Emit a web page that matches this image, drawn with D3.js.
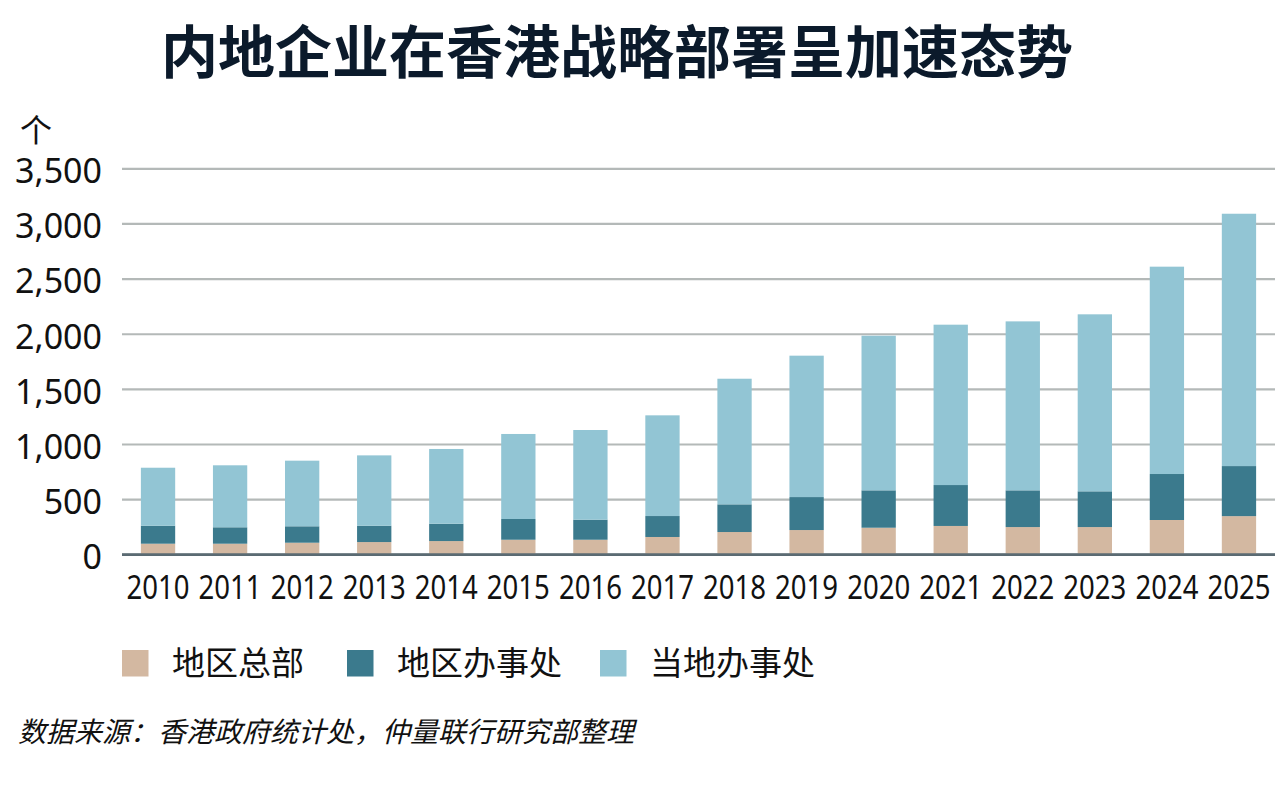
<!DOCTYPE html>
<html lang="zh">
  <head>
    <title>内地企业在香港战略部署</title>
    <meta charset="utf-8">
    <style>
      body { margin: 0; background: #fff; }
      svg { display: block; font-family: "Noto Sans CJK SC", "Noto Sans", sans-serif; }
      .title { font-size: 57px; font-weight: bold; fill: #0b1a2b; }
      .yaxis text { font-family: "Noto Sans", sans-serif; font-size: 34px; fill: #111; }
      .xaxis text { font-family: "Noto Sans", sans-serif; font-size: 32px; fill: #111; }
      .legend text { font-size: 33px; fill: #111; }
      .source { font-size: 28px; font-style: italic; fill: #111; }
    </style>
    <script src="https://d3js.org/d3.v7.min.js"></script>
  </head>
  <body>
    <script>

    // data
    var years = ["2010", "2011", "2012", "2013", "2014", "2015", "2016", "2017",
                 "2018", "2019", "2020", "2021", "2022", "2023", "2024", "2025"];
    var hq = [96, 96, 105, 111, 120, 132, 132, 157, 202, 220, 241, 257, 247, 247, 311, 346];
    var regional = [163, 149, 149, 148, 157, 188, 182, 190, 251, 299, 339, 371, 333, 324, 417, 454];
    var local = [526, 562, 595, 638, 678, 771, 813, 913, 1139, 1282, 1402, 1454, 1532, 1605, 1880, 2288];
    var seriesNames = ["地区总部", "地区办事处", "当地办事处"];
    var colors = ["#d3b8a1", "#3b7a8d", "#92c5d4"];
    var yTicks = [0, 500, 1000, 1500, 2000, 2500, 3000, 3500];

    var W = 1280, H = 788;

    var svg = d3.select("body")
                .append("svg")
                .attr("width", W)
                .attr("height", H);

    svg.append("text")
       .attr("class", "title")
       .attr("x", 161)
       .attr("y", 73)
       .text("内地企业在香港战略部署呈加速态势");

    svg.append("text")
       .attr("x", 20)
       .attr("y", 142)
       .style("font-size", "32px")
       .style("fill", "#111")
       .text("个");

    var table = years.map(function(y, i) {
      return {year: y, hq: hq[i], regional: regional[i], local: local[i]};
    });

    var stack = d3.stack().keys(["hq", "regional", "local"]);
    var layers = stack(table);

    var xS = d3.scaleBand()
               .domain(years)
               .range([122, 1275])
               .paddingInner(0.524)
               .paddingOuter(0.262);

    var yS = d3.scaleLinear()
               .domain([0, 3500])
               .range([554.3, 168.3]);

    // gridlines + labels
    var yguide = svg.append("g")
                    .attr("class", "yaxis")
                    .attr("transform", "translate(122,0)")
                    .call(d3.axisLeft(yS)
                            .tickValues(yTicks)
                            .tickSize(-1153)
                            .tickPadding(20)
                            .tickFormat(d3.format(",")));
    yguide.select(".domain").remove();
    yguide.selectAll(".tick line")
          .attr("stroke", function(d) { return d === 0 ? "#5b6b73" : "#b4b9b8"; })
          .attr("stroke-width", 2.2);
    yguide.selectAll(".tick text")
          .attr("dy", "0.42em");

    svg.append("g")
       .selectAll("g")
       .data(layers)
       .enter()
       .append("g")
       .attr("fill", function(d, i) { return colors[i]; })
       .selectAll("rect")
       .data(function(d) { return d; })
       .enter()
       .append("rect")
       .attr("x", function(d) { return xS(d.data.year); })
       .attr("width", xS.bandwidth())
       .attr("y", function(d) { return yS(d[1]); })
       .attr("height", function(d) { return yS(d[0]) - yS(d[1]); });

    // baseline over the bars
    svg.append("line")
       .attr("x1", 122).attr("x2", 1275)
       .attr("y1", yS(0)).attr("y2", yS(0))
       .attr("stroke", "#5b6b73")
       .attr("stroke-width", 2.2);

    var xguide = svg.append("g")
                    .attr("class", "xaxis")
                    .attr("transform", "translate(0," + yS(0) + ")")
                    .call(d3.axisBottom(xS).tickSize(0).tickPadding(22));
    xguide.select(".domain").remove();
    xguide.selectAll(".tick text")
          .attr("textLength", 63)
          .attr("lengthAdjust", "spacingAndGlyphs");

    // legend
    var legendX = [122, 347, 600];
    var legend = svg.append("g")
                    .attr("class", "legend")
                    .selectAll("g")
                    .data(seriesNames)
                    .enter()
                    .append("g")
                    .attr("transform", function(d, i) { return "translate(" + legendX[i] + ",650)"; });
    legend.append("rect")
          .attr("width", 26.5)
          .attr("height", 26.5)
          .attr("fill", function(d, i) { return colors[i]; });
    legend.append("text")
          .attr("x", 50)
          .attr("y", 13.5)
          .attr("dy", "0.36em")
          .text(function(d) { return d; });

    svg.append("text")
       .attr("class", "source")
       .attr("x", 18)
       .attr("y", 742)
       .text("数据来源：香港政府统计处，仲量联行研究部整理");

    </script>
  </body>
</html>
